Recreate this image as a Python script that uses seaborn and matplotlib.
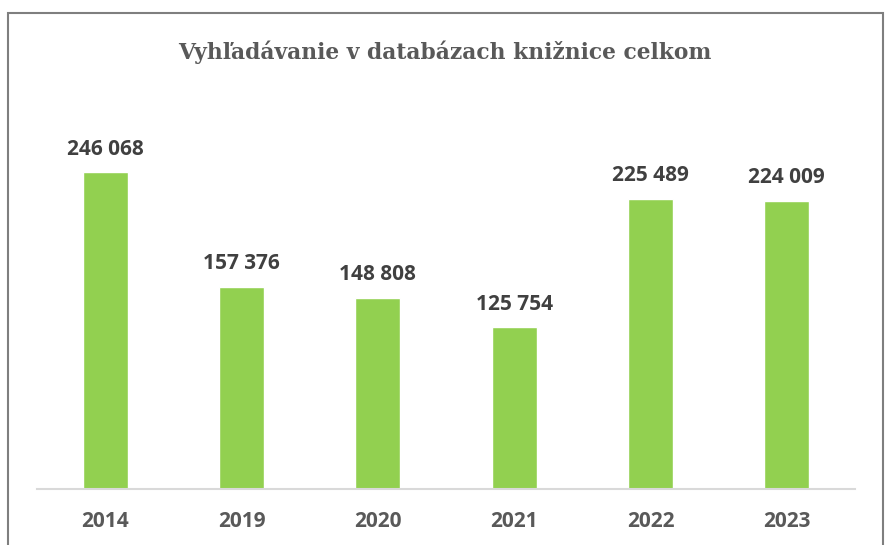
import matplotlib
matplotlib.use("Agg")
import matplotlib.pyplot as plt
import matplotlib.patches as patches
import seaborn as sns
import pandas as pd

years = ["2014", "2019", "2020", "2021", "2022", "2023"]
searches = [246068, 157376, 148808, 125754, 225489, 224009]

df = pd.DataFrame({"rok": years, "vyhladavanie": searches})

sns.set_style("white")
plt.rcParams['font.family'] = ['Open Sans', 'DejaVu Sans']

fig = plt.figure(figsize=(8.88, 5.45), dpi=100)
ax = fig.add_axes([37 / 888, 56 / 545, 818 / 888, 386 / 545])

sns.barplot(data=df, x="rok", y="vyhladavanie", color="#92D050",
            width=0.33, saturation=1, ax=ax)

labels = [f"{v:,}".replace(",", " ") for v in searches]
ax.bar_label(ax.containers[0], labels=labels, padding=9,
             fontsize=15, fontweight="bold", color="#404040")

ax.set_ylim(0, 300000)
ax.set_xlim(-0.5, len(years) - 0.5)
ax.set_xlabel("")
ax.set_ylabel("")
ax.set_yticks([])
ax.tick_params(axis="x", length=0, pad=16, labelsize=15, labelcolor="#595959")
for lbl in ax.get_xticklabels():
    lbl.set_fontweight("bold")

for side in ["top", "left", "right"]:
    ax.spines[side].set_visible(False)
ax.spines["bottom"].set_color("#D9D9D9")
ax.spines["bottom"].set_linewidth(1.5)

fig.text(445 / 888, 1 - 52 / 545, "Vyhľadávanie v databázach knižnice celkom",
         ha="center", va="center", fontsize=15.7, fontweight="bold",
         color="#595959", family=["DejaVu Serif"])

# chart frame
frame = patches.Rectangle((8 / 888, -0.05), 875 / 888, 1.05 - 13 / 545,
                          transform=fig.transFigure, fill=False,
                          edgecolor="#7F7F7F", linewidth=1.5, clip_on=False)
fig.patches.append(frame)

fig.savefig("out.png", dpi=100)
